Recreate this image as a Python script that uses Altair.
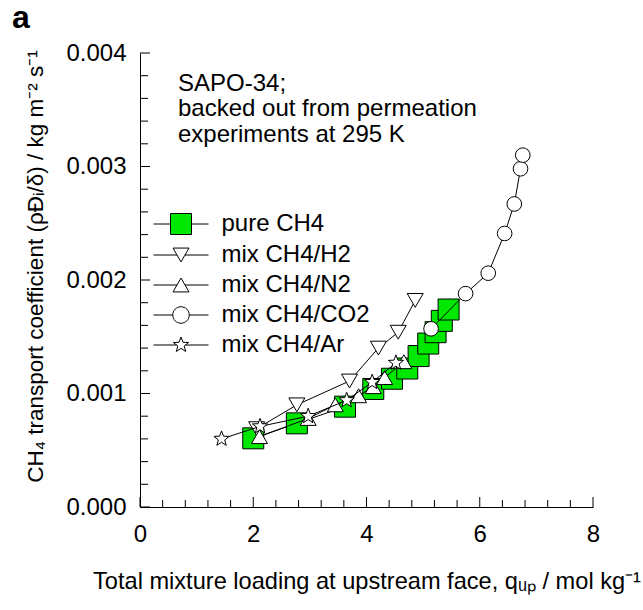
import altair as alt
import numpy as np
import pandas as pd

# ---------------- data ----------------
series_names = ["pure CH4", "mix CH4/H2", "mix CH4/N2", "mix CH4/CO2", "mix CH4/Ar"]

pure_q = [2.00, 2.77, 3.62, 4.12, 4.45, 4.72, 4.92, 5.09, 5.22, 5.33, 5.45]
pure_k = [0.000605, 0.000737, 0.000884, 0.00104, 0.00113, 0.00122, 0.00133, 0.00144, 0.00154, 0.00164, 0.00174]

h2_q = [2.06, 2.77, 3.70, 4.21, 4.56, 4.86]
h2_k = [0.00069, 0.00090, 0.00111, 0.00140, 0.00154, 0.00182]

n2_q = [2.11, 2.97, 3.45, 3.86, 4.12, 4.32, 4.66]
n2_k = [0.00062, 0.00078, 0.00090, 0.00098, 0.00106, 0.00114, 0.00128]

co2_q = [5.14, 5.75, 6.15, 6.44, 6.61, 6.72, 6.76]
co2_k = [0.00157, 0.00188, 0.00206, 0.00241, 0.00267, 0.00298, 0.00310]

ar_q = [1.44, 2.12, 2.97, 3.65, 4.10, 4.52]
ar_k = [0.00060, 0.00071, 0.00080, 0.00094, 0.00110, 0.00127]

x_major = [0, 2, 4, 6, 8]
x_minor = [0.4, 0.8, 1.2, 1.6, 2.4, 2.8, 3.2, 3.6, 4.4, 4.8, 5.2, 5.6, 6.4, 6.8, 7.2, 7.6]
y_major = [0.000, 0.001, 0.002, 0.003, 0.004]
y_minor = [0.0002, 0.0004, 0.0006, 0.0008, 0.0012, 0.0014, 0.0016, 0.0018,
           0.0022, 0.0024, 0.0026, 0.0028, 0.0032, 0.0034, 0.0036, 0.0038]

annotation_lines = ["SAPO-34;", "backed out from permeation", "experiments at 295 K"]
panel_label = "a"
x_title = "Total mixture loading at upstream face, q\u1d64\u209a / mol kg\u207b\u00b9"
y_title = "CH\u2084 transport coefficient (\u03c1\u0110\u1d62/\u03b4) / kg m\u207b\u00b2 s\u207b\u00b9"

all_q = [pure_q, h2_q, n2_q, co2_q, ar_q]
all_k = [pure_k, h2_k, n2_k, co2_k, ar_k]

rows = []
for name, qs, ks in zip(series_names, all_q, all_k):
    for i, (q, k) in enumerate(zip(qs, ks)):
        rows.append({"series": name, "q": q, "k": k, "i": i})
df = pd.DataFrame(rows)

# ---------------- styles ----------------
FONT = "Liberation Sans"
FS = 24
W, H = 453, 454
GREEN = "#00e800"


def star_path(R, r_in):
    pts = []
    for j in range(10):
        ang = np.deg2rad(-90 + 36 * j)
        rad = R if j % 2 == 0 else r_in
        pts.append((rad * np.cos(ang), rad * np.sin(ang)))
    return "M" + "L".join(f"{x:.3f},{y:.3f}" for x, y in pts) + "Z"


STAR = star_path(1.0, 0.42)

styles = {
    "pure CH4": dict(shape="square", size=441, fill=GREEN),
    "mix CH4/H2": dict(shape="triangle-down", size=256, fill="white"),
    "mix CH4/N2": dict(shape="triangle-up", size=256, fill="white"),
    "mix CH4/CO2": dict(shape="circle", size=214, fill="white"),
    "mix CH4/Ar": dict(shape=STAR, size=256, fill="white"),
}

# legend symbols: line + marker, unit = 10 px (symbolSize 400)
L = 2.75
leg_paths = [
    f"M{-L},0H-1.05M1.05,0H{L}M-1.05,-1.05H1.05V1.05H-1.05Z",
    f"M{-L},0H-0.4M0.4,0H{L}M-0.8,-0.693L0.8,-0.693L0,0.693Z",
    f"M{-L},0H-0.4M0.4,0H{L}M-0.8,0.693L0.8,0.693L0,-0.693Z",
    f"M{-L},0H-0.825M0.825,0H{L}M0.825,0A0.825,0.825 0 1,1 -0.825,0A0.825,0.825 0 1,1 0.825,0Z",
    f"M{-L},0H-0.45M0.45,0H{L}" + star_path(0.8, 0.336),
]
leg_fills = [styles[n]["fill"] for n in series_names]

xs = alt.Scale(domain=[0, 8], nice=False, zero=False)
ys = alt.Scale(domain=[0, 0.004], nice=False, zero=False)

x_axis = alt.Axis(values=x_major, format="d", ticks=False, tickSize=0, grid=False,
                  domainColor="black", domainWidth=1, labelFlush=False,
                  labelFont=FONT, labelFontSize=FS, labelColor="black", labelPadding=15,
                  title=x_title, titleFont=FONT, titleFontSize=23.6, titleFontWeight="normal",
                  titleColor="black", titleY=81, titleBaseline="alphabetic")
y_axis = alt.Axis(values=y_major, format=".3f", ticks=False, tickSize=0, grid=False,
                  domainColor="black", domainWidth=1, labelFlush=False,
                  labelFont=FONT, labelFontSize=FS, labelColor="black", labelPadding=14,
                  title=y_title, titleFont=FONT, titleFontSize=22.5, titleFontWeight="normal",
                  titleColor="black", titleX=-98, titleY=213, titleAngle=270,
                  titleAlign="center", titleBaseline="alphabetic")

X = alt.X("q:Q", scale=xs, axis=x_axis)
Y = alt.Y("k:Q", scale=ys, axis=y_axis)

base = alt.Chart(df)
layers = []
for name in series_names:
    st = styles[name]
    sub = base.transform_filter(alt.datum.series == name)
    layers.append(sub.mark_line(color="black", strokeWidth=1).encode(
        x=X, y=Y, order="i:Q"))
    layers.append(sub.mark_point(filled=True, opacity=1, fill=st["fill"], stroke="black",
                                 strokeWidth=1, shape=st["shape"], size=st["size"]).encode(
        x=X, y=Y))

legend = alt.Legend(orient="none", legendX=29, legendY=159, title=None, padding=0,
                    symbolSize=400, symbolStrokeColor="black", symbolStrokeWidth=1,
                    symbolOpacity=1, labelFont=FONT, labelFontSize=FS, labelColor="black",
                    labelOffset=28.5, labelLimit=400, rowPadding=6)
leg_layer = base.transform_filter("datum.q < -100").mark_point(
    filled=True, opacity=1, strokeWidth=1).encode(
    x=X, y=Y,
    shape=alt.Shape("series:N", scale=alt.Scale(domain=series_names, range=leg_paths), legend=legend),
    fill=alt.Fill("series:N", scale=alt.Scale(domain=series_names, range=leg_fills), legend=legend),
    stroke=alt.Stroke("series:N", scale=alt.Scale(domain=series_names, range=["black"] * 5), legend=legend),
)
layers.append(leg_layer)

# inward ticks
tick_df_xM = pd.DataFrame({"q": x_major})
tick_df_xm = pd.DataFrame({"q": x_minor})
tick_df_yM = pd.DataFrame({"k": y_major})
tick_df_ym = pd.DataFrame({"k": y_minor})
layers.append(alt.Chart(tick_df_xM).mark_rule(color="black", strokeWidth=1).encode(
    x=X, y=alt.value(H), y2=alt.value(H - 10)))
layers.append(alt.Chart(tick_df_xm).mark_rule(color="black", strokeWidth=1).encode(
    x=X, y=alt.value(H), y2=alt.value(H - 7)))
layers.append(alt.Chart(tick_df_yM).mark_rule(color="black", strokeWidth=1).encode(
    y=Y, x=alt.value(0), x2=alt.value(10)))
layers.append(alt.Chart(tick_df_ym).mark_rule(color="black", strokeWidth=1).encode(
    y=Y, x=alt.value(0), x2=alt.value(8)))

one = pd.DataFrame({"z": [0]})
layers.append(alt.Chart(one).mark_text(align="left", baseline="alphabetic", font=FONT,
                                       fontSize=FS, lineHeight=25.5, color="black").encode(
    x=alt.value(38), y=alt.value(37.5), text=alt.value(annotation_lines)))
layers.append(alt.Chart(one).mark_text(align="left", baseline="alphabetic", font=FONT,
                                       fontSize=32, fontWeight="bold", color="black").encode(
    x=alt.value(-128), y=alt.value(-25), text=alt.value(panel_label)))

chart = alt.layer(*layers).properties(
    width=W, height=H,
    autosize=alt.AutoSizeParams(type="none"),
    padding={"left": 140, "top": 53, "right": 50, "bottom": 103},
    background="white",
).configure_view(stroke=None)

chart.save("out.html", embed_options={"renderer": "svg", "actions": False})
